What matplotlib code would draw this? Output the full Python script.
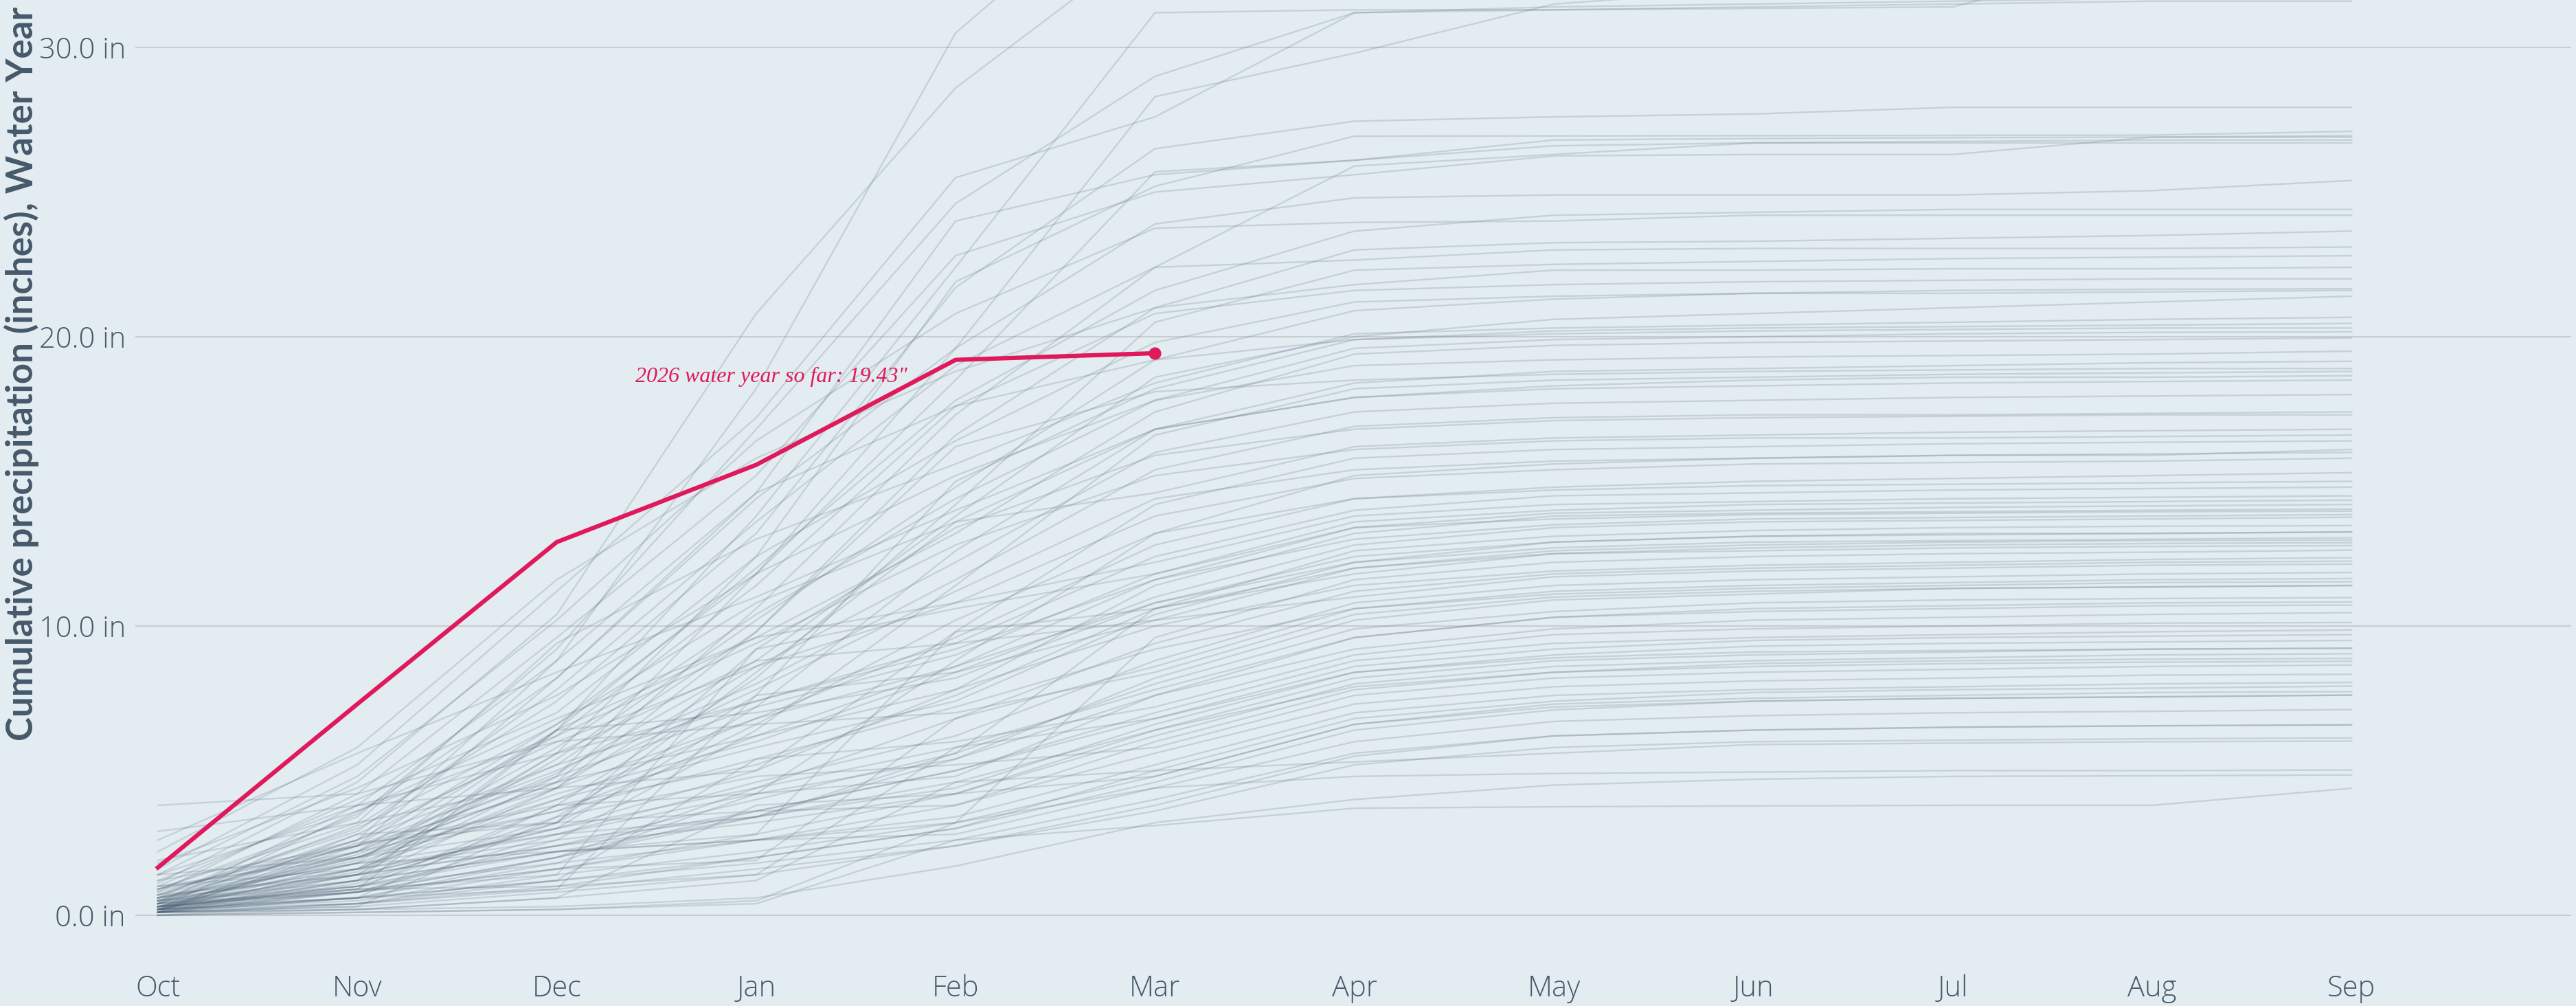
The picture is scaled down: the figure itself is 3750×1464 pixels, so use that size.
import numpy as np
import matplotlib.pyplot as plt

# month labels of the water year
months = ["Oct", "Nov", "Dec", "Jan", "Feb", "Mar", "Apr", "May", "Jun", "Jul", "Aug", "Sep"]

# cumulative precipitation (inches) for past water years, one list per year
past_years = [
    [0.4, 2.6, 8.8, 18.2, 30.5, 36.4, 37.2, 37.6, 37.7, 37.7, 37.7, 37.8],
    [1.1, 4.6, 10.4, 20.8, 28.6, 33.8, 34.6, 35.0, 35.1, 35.1, 35.2, 35.2],
    [0.3, 2.2, 6.4, 13.8, 22.4, 31.2, 31.3, 31.3, 31.35, 31.4, 33.2, 33.4],
    [0.9, 3.4, 9.2, 16.8, 24.6, 29.0, 31.2, 31.3, 31.4, 31.5, 31.6, 31.6],
    [0.2, 1.4, 4.8, 11.8, 19.6, 28.3, 29.8, 31.5, 32.0, 32.1, 32.2, 32.3],
    [1.6, 5.2, 11.2, 17.2, 25.5, 27.6, 31.2, 31.4, 31.5, 31.6, 31.7, 31.8],
    [0.5, 3.1, 7.4, 13.2, 21.7, 26.5, 27.45, 27.6, 27.7, 27.93, 27.93, 27.93],
    [0.2, 1.6, 5.6, 12.4, 21.9, 25.2, 26.93, 26.94, 26.95, 26.96, 26.97, 27.1],
    [0.8, 4.2, 9.6, 15.2, 22.8, 25.0, 25.6, 26.25, 26.3, 26.3, 26.9, 26.95],
    [0.1, 2.4, 6.6, 11.8, 18.5, 25.7, 26.1, 26.8, 26.85, 26.88, 26.9, 26.9],
    [1.2, 3.8, 8.8, 14.6, 24.0, 25.6, 26.1, 26.6, 26.7, 26.75, 26.8, 26.8],
    [0.4, 2.0, 4.6, 10.6, 17.3, 22.4, 25.9, 26.3, 26.7, 26.7, 26.7, 26.7],
    [0.6, 3.5, 8.2, 14.4, 19.6, 23.9, 24.8, 24.9, 24.9, 24.9, 25.05, 25.4],
    [0.3, 1.8, 6.4, 12.0, 17.8, 21.6, 23.65, 24.2, 24.3, 24.4, 24.4, 24.4],
    [1.4, 4.8, 10.2, 16.4, 20.8, 23.75, 23.95, 24.0, 24.2, 24.2, 24.2, 24.2],
    [0.2, 1.2, 4.4, 9.8, 16.6, 21.0, 23.0, 23.25, 23.3, 23.4, 23.5, 23.65],
    [0.7, 2.9, 7.8, 13.6, 19.0, 22.4, 22.65, 23.0, 23.05, 23.05, 23.05, 23.1],
    [0.1, 0.9, 3.8, 8.2, 14.2, 20.5, 22.3, 22.5, 22.6, 22.7, 22.75, 22.8],
    [2.2, 5.8, 11.6, 15.8, 18.8, 21.0, 21.8, 22.3, 22.3, 22.35, 22.35, 22.4],
    [0.5, 2.6, 6.2, 11.4, 17.6, 20.8, 21.6, 21.8, 21.9, 21.95, 22.0, 22.0],
    [0.3, 1.5, 5.4, 10.2, 14.8, 19.2, 20.9, 21.3, 21.5, 21.6, 21.64, 21.66],
    [1.0, 4.0, 7.0, 12.4, 16.4, 19.8, 21.2, 21.4, 21.5, 21.5, 21.55, 21.6],
    [0.2, 2.1, 4.9, 8.8, 13.8, 18.6, 20.0, 20.6, 20.8, 21.0, 21.2, 21.4],
    [0.9, 3.2, 9.4, 13.0, 15.6, 18.4, 20.1, 20.3, 20.4, 20.5, 20.6, 20.67],
    [0.1, 1.1, 3.4, 7.6, 15.0, 18.2, 19.9, 20.2, 20.3, 20.35, 20.4, 20.46],
    [0.6, 2.4, 8.2, 14.6, 17.6, 19.2, 19.9, 20.1, 20.2, 20.25, 20.3, 20.3],
    [0.4, 1.9, 5.8, 10.4, 14.4, 17.8, 19.6, 19.9, 20.0, 20.1, 20.15, 20.17],
    [0.2, 3.6, 6.8, 9.6, 13.2, 17.4, 19.4, 19.7, 19.8, 19.85, 19.9, 19.96],
    [1.8, 4.4, 7.6, 11.8, 15.2, 17.8, 19.0, 19.2, 19.3, 19.35, 19.4, 19.5],
    [0.3, 1.4, 3.0, 7.2, 12.6, 16.8, 18.4, 18.8, 18.9, 19.0, 19.1, 19.15],
    [0.5, 2.2, 5.2, 9.8, 16.2, 18.1, 18.5, 18.7, 18.8, 18.85, 18.9, 18.9],
    [0.1, 0.8, 2.6, 6.4, 11.4, 16.6, 18.2, 18.5, 18.6, 18.7, 18.75, 18.8],
    [2.6, 5.6, 8.4, 11.0, 14.0, 16.8, 17.9, 18.3, 18.5, 18.6, 18.6, 18.65],
    [0.7, 3.0, 6.6, 10.8, 13.6, 16.8, 17.9, 18.2, 18.3, 18.4, 18.45, 18.5],
    [0.2, 1.6, 4.4, 8.6, 12.2, 16.0, 17.4, 17.7, 17.8, 17.9, 17.95, 18.0],
    [0.9, 2.4, 5.0, 8.0, 11.6, 15.4, 16.9, 17.2, 17.3, 17.3, 17.35, 17.4],
    [0.3, 1.0, 3.2, 9.2, 13.4, 15.9, 16.8, 17.1, 17.2, 17.25, 17.3, 17.3],
    [0.1, 2.8, 3.2, 8.4, 13.6, 14.6, 16.2, 16.5, 16.6, 16.7, 16.75, 16.8],
    [1.4, 3.6, 6.2, 9.4, 12.8, 15.2, 16.1, 16.4, 16.5, 16.5, 16.55, 16.6],
    [0.4, 1.2, 2.2, 2.8, 9.8, 14.2, 15.8, 16.1, 16.2, 16.3, 16.35, 16.4],
    [0.6, 2.0, 4.6, 7.8, 11.2, 14.4, 15.4, 15.7, 15.8, 15.9, 15.9, 16.1],
    [0.2, 0.6, 1.8, 4.2, 8.8, 13.2, 15.2, 15.6, 15.8, 15.9, 15.95, 16.0],
    [3.8, 4.2, 6.0, 8.6, 10.8, 13.8, 15.1, 15.4, 15.6, 15.65, 15.7, 15.8],
    [0.5, 1.6, 4.0, 6.8, 9.6, 12.8, 14.4, 14.8, 15.0, 15.1, 15.2, 15.3],
    [0.1, 1.2, 3.2, 6.6, 10.2, 13.2, 14.4, 14.7, 14.85, 14.9, 14.95, 15.0],
    [0.8, 2.6, 5.2, 7.4, 9.4, 12.4, 14.0, 14.5, 14.6, 14.7, 14.75, 14.8],
    [0.3, 0.9, 6.4, 9.6, 10.8, 12.2, 13.8, 14.2, 14.3, 14.4, 14.45, 14.5],
    [0.2, 2.2, 4.8, 7.2, 9.0, 11.8, 13.6, 14.0, 14.2, 14.25, 14.3, 14.35],
    [1.0, 2.0, 3.6, 6.2, 8.6, 11.6, 13.4, 13.9, 14.0, 14.1, 14.15, 14.2],
    [0.4, 1.4, 3.0, 5.0, 7.8, 11.4, 13.2, 13.8, 13.9, 13.95, 14.0, 14.04],
    [0.0, 0.4, 1.4, 9.2, 10.6, 11.8, 13.4, 13.7, 13.85, 13.9, 13.95, 13.97],
    [2.9, 3.8, 5.6, 7.4, 9.2, 11.6, 13.0, 13.5, 13.7, 13.75, 13.8, 13.85],
    [0.6, 1.8, 4.2, 6.0, 8.4, 11.0, 12.8, 13.4, 13.6, 13.65, 13.7, 13.76],
    [0.2, 0.8, 2.8, 3.4, 5.6, 10.6, 12.6, 13.1, 13.3, 13.4, 13.45, 13.47],
    [0.5, 1.2, 6.4, 7.0, 8.2, 10.8, 12.4, 12.9, 13.1, 13.15, 13.2, 13.25],
    [0.3, 2.0, 4.0, 5.8, 7.4, 10.4, 12.2, 12.9, 13.1, 13.2, 13.2, 13.25],
    [1.2, 2.4, 4.4, 6.8, 8.6, 10.8, 12.2, 12.7, 12.9, 12.95, 13.0, 13.05],
    [0.1, 0.6, 0.9, 7.6, 8.4, 10.2, 12.0, 12.6, 12.8, 12.9, 12.95, 12.97],
    [0.4, 3.8, 4.4, 5.0, 9.8, 10.6, 11.8, 12.5, 12.7, 12.8, 12.85, 12.88],
    [0.7, 2.4, 3.8, 5.2, 7.6, 10.6, 12.0, 12.5, 12.6, 12.7, 12.75, 12.78],
    [0.2, 1.0, 2.2, 2.6, 3.2, 9.6, 11.6, 12.2, 12.4, 12.5, 12.55, 12.62],
    [1.9, 3.2, 4.6, 6.2, 7.8, 10.0, 11.4, 11.9, 12.1, 12.2, 12.3, 12.36],
    [0.3, 0.8, 2.0, 4.4, 6.8, 9.4, 11.2, 11.8, 12.0, 12.1, 12.2, 12.24],
    [0.1, 1.4, 5.6, 8.8, 9.4, 10.2, 11.0, 11.7, 11.9, 12.0, 12.1, 12.14],
    [0.6, 1.8, 2.8, 4.6, 6.2, 8.8, 10.8, 11.4, 11.6, 11.7, 11.8, 11.85],
    [0.2, 0.5, 1.6, 1.9, 6.8, 8.6, 10.6, 11.2, 11.4, 11.5, 11.6, 11.64],
    [0.9, 2.2, 3.6, 5.4, 7.2, 9.2, 10.6, 11.1, 11.3, 11.4, 11.5, 11.53],
    [0.4, 2.8, 6.0, 6.6, 7.0, 8.4, 10.4, 11.0, 11.2, 11.3, 11.35, 11.4],
    [0.1, 0.8, 2.0, 3.4, 5.4, 8.2, 10.2, 10.9, 11.1, 11.3, 11.35, 11.4],
    [0.3, 1.0, 2.4, 4.0, 5.6, 8.0, 9.9, 10.5, 10.8, 10.9, 10.95, 10.98],
    [1.4, 2.0, 3.0, 4.4, 5.8, 7.8, 9.6, 10.3, 10.6, 10.7, 10.8, 10.83],
    [0.2, 0.6, 3.8, 4.2, 4.8, 7.6, 9.6, 10.3, 10.5, 10.6, 10.7, 10.72],
    [0.5, 1.6, 2.8, 4.2, 5.4, 7.6, 9.2, 9.9, 10.2, 10.3, 10.4, 10.46],
    [0.1, 0.4, 1.2, 5.4, 6.0, 7.2, 9.0, 9.7, 9.9, 10.0, 10.1, 10.12],
    [0.7, 1.4, 2.4, 3.6, 5.0, 7.0, 8.8, 9.4, 9.6, 9.7, 9.8, 9.86],
    [0.3, 0.9, 1.0, 1.4, 5.8, 6.8, 8.6, 9.2, 9.5, 9.6, 9.65, 9.7],
    [0.2, 1.2, 2.2, 3.4, 4.4, 6.6, 8.4, 9.0, 9.3, 9.4, 9.45, 9.5],
    [0.4, 0.8, 1.6, 2.8, 4.2, 6.4, 8.2, 8.8, 9.0, 9.1, 9.2, 9.23],
    [0.1, 0.6, 2.0, 3.6, 5.0, 6.8, 8.4, 8.9, 9.1, 9.15, 9.2, 9.23],
    [0.6, 1.4, 2.4, 3.2, 4.2, 6.2, 8.0, 8.6, 8.8, 8.9, 9.0, 9.04],
    [0.2, 2.5, 3.2, 3.6, 3.8, 6.0, 7.8, 8.4, 8.7, 8.8, 8.85, 8.88],
    [1.0, 1.6, 2.6, 3.4, 4.6, 6.4, 7.9, 8.4, 8.6, 8.7, 8.75, 8.78],
    [0.1, 0.3, 3.4, 4.8, 5.2, 5.8, 7.6, 8.2, 8.4, 8.5, 8.6, 8.65],
    [0.3, 0.8, 1.6, 2.6, 3.8, 5.6, 7.3, 7.9, 8.1, 8.2, 8.3, 8.33],
    [0.5, 1.0, 1.8, 2.6, 3.4, 5.2, 7.0, 7.6, 7.8, 7.9, 8.0, 8.05],
    [0.2, 0.6, 1.2, 2.0, 3.0, 5.0, 6.8, 7.4, 7.7, 7.8, 7.85, 7.92],
    [0.0, 0.2, 0.6, 3.8, 4.2, 4.8, 6.6, 7.3, 7.5, 7.6, 7.7, 7.73],
    [0.4, 0.9, 1.4, 2.2, 3.2, 4.8, 6.6, 7.2, 7.4, 7.5, 7.55, 7.61],
    [0.1, 0.4, 1.0, 2.0, 3.0, 4.6, 6.4, 7.1, 7.4, 7.5, 7.55, 7.61],
    [0.2, 1.8, 2.2, 2.6, 2.8, 4.4, 6.0, 6.7, 6.9, 7.0, 7.05, 7.11],
    [0.3, 0.6, 1.2, 1.8, 2.6, 4.0, 5.6, 6.2, 6.4, 6.5, 6.55, 6.58],
    [0.1, 0.3, 0.8, 1.4, 2.4, 3.8, 5.5, 6.2, 6.4, 6.5, 6.55, 6.58],
    [0.2, 0.4, 0.9, 1.6, 2.4, 3.6, 5.2, 5.8, 6.0, 6.05, 6.1, 6.13],
    [0.1, 0.2, 0.6, 1.2, 4.6, 5.0, 5.3, 5.6, 5.9, 5.95, 6.0, 6.02],
    [0.0, 0.1, 0.2, 0.5, 3.2, 4.4, 4.8, 4.9, 4.95, 5.0, 5.0, 5.02],
    [0.1, 0.2, 0.3, 0.6, 1.7, 3.2, 4.0, 4.5, 4.7, 4.8, 4.82, 4.85],
    [0.0, 0.1, 0.2, 0.4, 2.6, 3.1, 3.7, 3.75, 3.78, 3.8, 3.8, 4.39],
]

# 2026 water year so far
current_year = [1.65, 7.3, 12.9, 15.57, 19.2, 19.43]
current_label = '2026 water year so far: 19.43"'

yticks = [0, 10, 20, 30]
ytick_labels = ["0.0 in", "10.0 in", "20.0 in", "30.0 in"]

bg = "#E3ECF1"
text_col = "#46596A"
red = "#E0195A"

fig = plt.figure(figsize=(37.5, 14.64), dpi=100, facecolor=bg)
ax = fig.add_axes([0.0525, 0.0813, 0.9455, 0.9187])
ax.set_facecolor(bg)

x = np.arange(len(months))
for yr in past_years:
    ax.plot(x, yr, color="#4F6577", alpha=0.2, linewidth=1.7)

xc = np.arange(len(current_year))
ax.plot(xc, current_year, color=red, linewidth=4.5, zorder=5)
ax.plot(xc[-1], current_year[-1], "o", color=red, markersize=12, zorder=6)
ax.text(3.76, 18.62, current_label, color=red, fontsize=23, style="italic",
        family="Liberation Serif", ha="right", va="center", zorder=6)

ax.set_xlim(-0.1137, 12.10)
ax.set_ylim(-0.31, 31.64)

ax.set_yticks(yticks)
ax.set_yticklabels(ytick_labels)
ax.set_xticks(x)
ax.set_xticklabels(months)
ax.grid(axis="y", color="#C9CDCE", linewidth=1.5)
ax.set_axisbelow(True)
for s in ax.spines.values():
    s.set_visible(False)
ax.tick_params(length=0, labelsize=30, colors=text_col)
ax.tick_params(axis="y", pad=10)
ax.tick_params(axis="x", pad=52)
for lab in ax.get_xticklabels() + ax.get_yticklabels():
    lab.set_family("Open Sans")
    lab.set_fontweight("light")

fig.text(0.0015, 0.2637, "Cumulative precipitation (inches), Water Year",
         rotation=90, ha="left", va="bottom", fontsize=38, fontweight="bold",
         family="Lato", color=text_col)

fig.savefig("out.png", dpi=100, facecolor=bg)
